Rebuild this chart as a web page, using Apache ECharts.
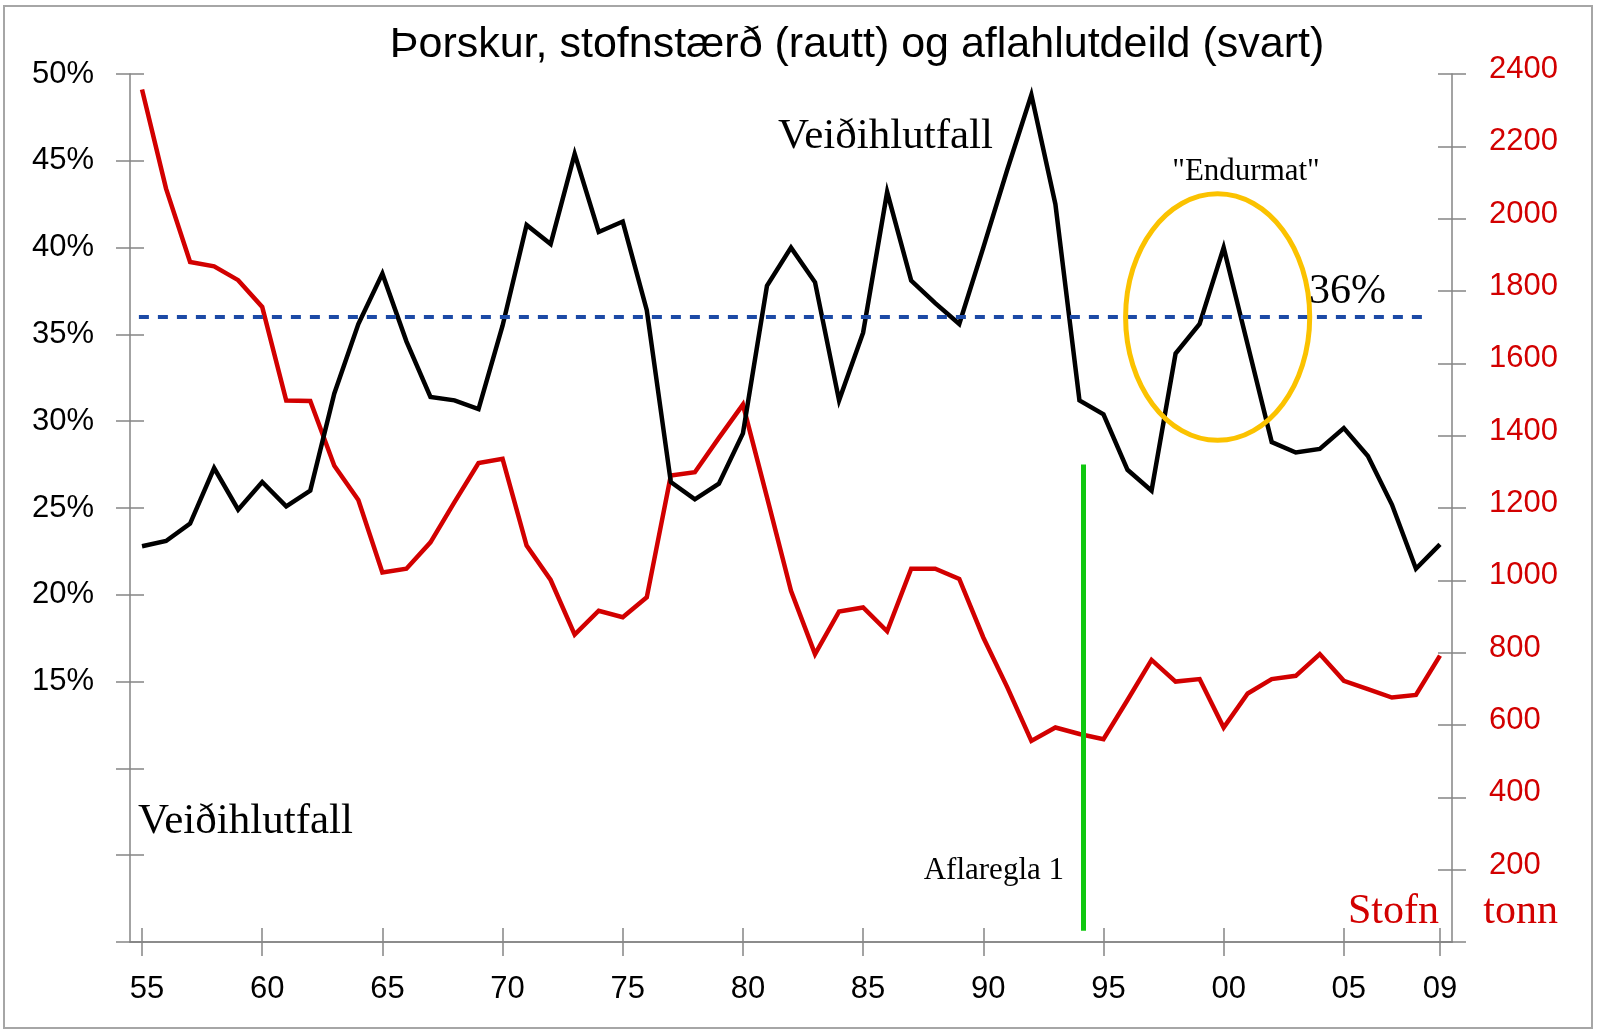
<!DOCTYPE html>
<html><head><meta charset="utf-8">
<script src="https://cdn.jsdelivr.net/npm/echarts@6/dist/echarts.min.js"></script>
<style>html,body{margin:0;padding:0;background:#fff}#c{width:1600px;height:1035px}</style>
</head><body><div id="c"></div>
<script>
const years = [1955,1956,1957,1958,1959,1960,1961,1962,1963,1964,1965,1966,1967,1968,1969,1970,1971,1972,1973,1974,1975,1976,1977,1978,1979,1980,1981,1982,1983,1984,1985,1986,1987,1988,1989,1990,1991,1992,1993,1994,1995,1996,1997,1998,1999,2000,2001,2002,2003,2004,2005,2006,2007,2008,2009];
const catchRatePct = [22.8,23.1,24.1,27.3,24.9,26.5,25.1,26.0,31.6,35.6, 38.5,34.6,31.4,31.2,30.7,35.5,41.3,40.2,45.4,40.9, 41.5,36.4,26.5,25.5,26.4,29.3,37.8,40.0,38.0,31.2, 35.1,43.2,38.1,36.8,35.6,40.0,44.5,48.8,42.5,31.2, 30.4,27.2,26.0,33.9,35.6,40.0,34.4,28.8,28.2,28.4, 29.6,28.0,25.2,21.5,22.9];
const stockKt = [2357,2083,1880,1868,1830,1756,1497,1496,1317,1222, 1022,1032,1105,1216,1324,1336,1096,1001,850,916, 898,953,1290,1299,1394,1486,1230,971,796,914, 925,859,1032,1032,1004,842,704,556,593,575, 561,669,780,720,727,593,687,727,736,796, 722,699,676,683,792];
const xTickYears = [1955,1960,1965,1970,1975,1980,1985,1990,1995,2000,2005,2009];
const xTickLabels = ['55','60','65','70','75','80','85','90','95','00','05','09'];
const targetRate = 36;
const targetLineFrom = 1954.87, targetLineTo = 2008.42;
const ruleYear = 1994.15, ruleFrom = 27.5, ruleTo = 0.65;
const circleCenter = [1999.75, 36], circleRadius = [3.83, 7.1];

const sans = '"Liberation Sans", Arial, sans-serif';
const serif = '"Liberation Serif", "Times New Roman", serif';
const axisGray = '#858585';
const red = '#d20000';

const chart = echarts.init(document.getElementById('c'), null, {renderer: 'canvas'});

const baseX = {type: 'value', min: 1954.5, max: 2009.5, splitLine: {show: false}};
const baseLeft = {type: 'value', position: 'left', min: 0, max: 50, interval: 5, splitLine: {show: false}};
const baseRight = {type: 'value', position: 'right', min: 0, max: 2400, interval: 200, splitLine: {show: false}};

const option = {
  animation: false,
  backgroundColor: '#fff',
  grid: {left: 130, right: 148, top: 74, bottom: 93, containLabel: false},
  xAxis: [
    Object.assign({}, baseX, {
      position: 'bottom',
      axisLine: {show: true, lineStyle: {color: axisGray, width: 1.5}},
      axisTick: {show: true, inside: false, length: 14, customValues: xTickYears, lineStyle: {color: axisGray, width: 1.5}},
      axisLabel: {show: true, customValues: xTickYears, margin: 32, fontFamily: sans, fontSize: 31, color: '#000',
        formatter: function (v) { const i = xTickYears.indexOf(Math.round(v)); const t = i >= 0 ? xTickLabels[i] : ''; return i === xTickYears.length - 1 ? t : '{s|' + t + '}'; },
        rich: {s: {fontFamily: sans, fontSize: 31, color: '#000', padding: [0, 0, 0, 10]}}}
    }),
    Object.assign({}, baseX, {
      position: 'bottom',
      axisLine: {show: false},
      axisTick: {show: true, inside: true, length: 14, customValues: xTickYears, lineStyle: {color: axisGray, width: 1.5}},
      axisLabel: {show: false}
    }),
    Object.assign({}, baseX, {
      position: 'top',
      axisLine: {show: true, lineStyle: {color: axisGray, width: 1.5}},
      axisTick: {show: false},
      axisLabel: {show: false}
    })
  ],
  yAxis: [
    Object.assign({}, baseLeft, {
      axisLine: {show: true, lineStyle: {color: axisGray, width: 1.5}},
      axisTick: {show: true, inside: false, length: 14, lineStyle: {color: axisGray, width: 1.5}},
      axisLabel: {show: true, margin: 36, fontFamily: sans, fontSize: 31, color: '#000',
        formatter: function (v) { return v >= 15 ? '{l|' + v + '%}' : ''; },
        rich: {l: {fontFamily: sans, fontSize: 31, color: '#000', padding: [0, 0, 0, 0]}}}
    }),
    Object.assign({}, baseLeft, {
      axisLine: {show: false},
      axisTick: {show: true, inside: true, length: 14, lineStyle: {color: axisGray, width: 1.5}},
      axisLabel: {show: false}
    }),
    Object.assign({}, baseRight, {
      axisLine: {show: true, lineStyle: {color: axisGray, width: 1.5}},
      axisTick: {show: true, inside: false, length: 14, lineStyle: {color: axisGray, width: 1.5}},
      axisLabel: {show: true, margin: 37, fontFamily: sans, fontSize: 31, color: red,
        formatter: function (v) { return v > 0 ? '{r|' + v + '}' : ''; },
        rich: {r: {fontFamily: sans, fontSize: 31, color: red, padding: [0, 0, 9, 0]}}}
    }),
    Object.assign({}, baseRight, {
      axisLine: {show: false},
      axisTick: {show: true, inside: true, length: 14, lineStyle: {color: axisGray, width: 1.5}},
      axisLabel: {show: false}
    })
  ],
  series: [
    {
      name: 'Stofn', type: 'line', xAxisIndex: 0, yAxisIndex: 2, symbol: 'none',
      lineStyle: {color: red, width: 4.5, join: 'miter'}, z: 3,
      data: years.map((y, i) => [y, stockKt[i]])
    },
    {
      name: 'Veiðihlutfall', type: 'line', xAxisIndex: 0, yAxisIndex: 0, symbol: 'none',
      lineStyle: {color: '#000', width: 4.5, join: 'miter'}, z: 4,
      data: years.map((y, i) => [y, catchRatePct[i]]),
      markLine: {
        silent: true, symbol: 'none', label: {show: false}, animation: false,
        data: [
          [{coord: [targetLineFrom, targetRate], lineStyle: {color: '#1c4aa6', width: 4, type: [10, 9]}}, {coord: [targetLineTo, targetRate]}],
          [{coord: [ruleYear, ruleFrom], lineStyle: {color: '#10c810', width: 5, type: 'solid'}}, {coord: [ruleYear, ruleTo]}]
        ]
      }
    }
  ],
  graphic: [
    {type: 'rect', shape: {x: 4, y: 6, width: 1588, height: 1022}, style: {fill: null, stroke: '#a6a6a6', lineWidth: 2}, silent: true},
    {type: 'text', x: 857, y: 45, style: {text: 'Þorskur, stofnstærð (rautt) og aflahlutdeild (svart)', font: '43px ' + sans, fill: '#000', align: 'center', verticalAlign: 'middle', textAlign: 'center', textVerticalAlign: 'middle'}},
    {type: 'text', x: 778, y: 137, style: {text: 'Veiðihlutfall', font: '43px ' + serif, fill: '#000', align: 'left', verticalAlign: 'middle', textAlign: 'left', textVerticalAlign: 'middle'}},
    {type: 'text', x: 138, y: 822, style: {text: 'Veiðihlutfall', font: '43px ' + serif, fill: '#000', align: 'left', verticalAlign: 'middle', textAlign: 'left', textVerticalAlign: 'middle'}},
    {type: 'text', x: 1246, y: 172, style: {text: '"Endurmat"', font: '31px ' + serif, fill: '#000', align: 'center', verticalAlign: 'middle', textAlign: 'center', textVerticalAlign: 'middle'}},
    {type: 'text', x: 1309, y: 292, style: {text: '36%', font: '42px ' + serif, fill: '#000', align: 'left', verticalAlign: 'middle', textAlign: 'left', textVerticalAlign: 'middle'}},
    {type: 'text', x: 1064, y: 871, style: {text: 'Aflaregla 1', font: '31px ' + serif, fill: '#000', align: 'right', verticalAlign: 'middle', textAlign: 'right', textVerticalAlign: 'middle'}},
    {type: 'text', x: 1439, y: 912, style: {text: 'Stofn', font: '42px ' + serif, fill: red, align: 'right', verticalAlign: 'middle', textAlign: 'right', textVerticalAlign: 'middle'}},
    {type: 'text', x: 1558, y: 912, style: {text: 'tonn', font: '42px ' + serif, fill: red, align: 'right', verticalAlign: 'middle', textAlign: 'right', textVerticalAlign: 'middle'}}
  ]
};
chart.setOption(option);

const c = chart.convertToPixel({xAxisIndex: 0, yAxisIndex: 0}, circleCenter);
const e = chart.convertToPixel({xAxisIndex: 0, yAxisIndex: 0}, [circleCenter[0] + circleRadius[0], circleCenter[1] - circleRadius[1]]);
chart.setOption({graphic: option.graphic.concat([
  {type: 'ellipse', shape: {cx: c[0], cy: c[1], rx: Math.abs(e[0] - c[0]), ry: Math.abs(e[1] - c[1])}, style: {fill: null, stroke: '#fbc200', lineWidth: 5}, z: 10, silent: true}
])}, {replaceMerge: ['graphic']});
</script>
</body></html>
